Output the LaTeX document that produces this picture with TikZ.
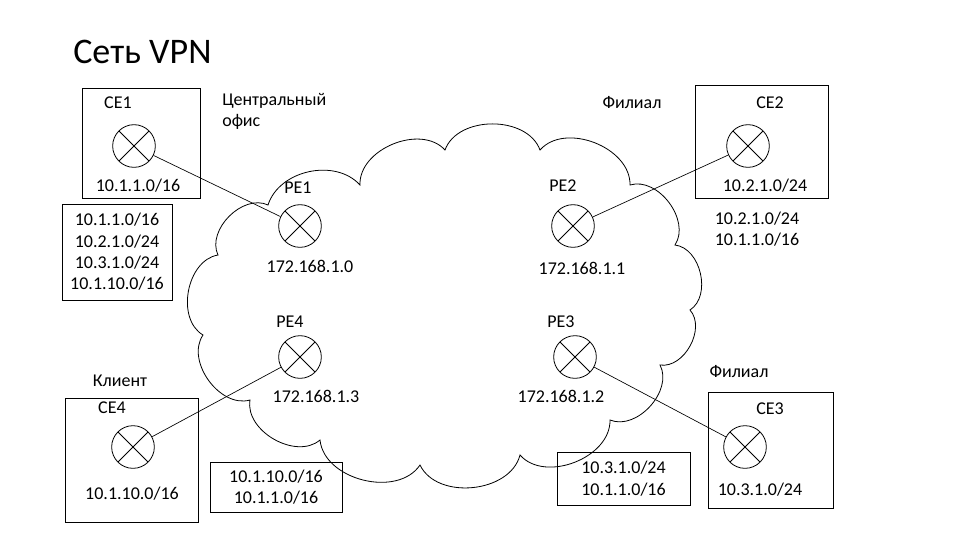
\documentclass[tikz,border=0pt]{standalone}
\usepackage{fontspec}
\setmainfont{Carlito}
\begin{document}
\begin{tikzpicture}[x=0.75pt,y=-0.75pt,
  lbl/.style={font=\fontsize{13.5}{16}\selectfont,inner sep=0},
  rt/.style={circle,draw,minimum size=32pt,inner sep=0,line width=0.6pt,path picture={\draw[line width=0.6pt] (path picture bounding box.north west)--(path picture bounding box.south east) (path picture bounding box.north east)--(path picture bounding box.south west);}},
  ln/.style={line width=0.5pt}]
\useasboundingbox (0,0) rectangle (960,540);
\node[anchor=west,font=\fontsize{27}{32}\selectfont,inner sep=0] (title) at (73,52) {Сеть VPN};
% cloud
\draw[line width=0.6pt] (203,335) to[bend left=70] (218,255) to[bend left=70] (268,205)
 to[bend left=60] (360,185) to[bend left=70] (445,150) to[bend left=70] (540,150)
 to[bend left=70] (630,185) to[bend left=70] (675,245) to[bend left=70] (690,310)
 to[bend left=70] (660,365) to[bend left=70] (610,420) to[bend left=70] (520,455)
 to[bend left=70] (420,465) to[bend left=70] (320,440) to[bend left=70] (250,400)
 to[bend left=70] cycle;
% CE1
\node[draw,minimum width=88.5pt,minimum height=82.5pt] (ce1box) at (141,143) {};
\node[lbl] (ce1l) at (118,103) {CE1};
\node[rt] (ce1) at (134,146) {};
\node[lbl] (ce1n) at (138,186) {10.1.1.0/16};
\node[draw,minimum width=82.5pt,minimum height=72pt,lbl,align=center] (t1) at (117,252) {10.1.1.0/16\\10.2.1.0/24\\10.3.1.0/24\\10.1.10.0/16};
\node[lbl,anchor=north west,align=left] (co) at (222,93) {Центральный\\офис};
\node[lbl] (f1) at (632,103) {Филиал};
% CE2
\node[draw,minimum width=99.75pt,minimum height=84.75pt] (ce2box) at (761.5,141.5) {};
\node[lbl] (ce2l) at (770,103) {CE2};
\node[rt] (ce2) at (748,146) {};
\node[lbl] (ce2n) at (765,186) {10.2.1.0/24};
\node[lbl,align=center] (t2) at (757,229) {10.2.1.0/24\\10.1.1.0/16};
% PEs
\node[lbl] (pe1l) at (298,188) {PE1};
\node[rt] (pe1) at (300,226) {};
\node[lbl] (pe1n) at (310,266) {172.168.1.0};
\node[lbl] (pe2l) at (563,186) {PE2};
\node[rt] (pe2) at (573,226) {};
\node[lbl] (pe2n) at (582,268) {172.168.1.1};
\node[lbl] (pe4l) at (290,322) {PE4};
\node[rt] (pe4) at (300,357) {};
\node[lbl] (pe4n) at (316,396) {172.168.1.3};
\node[lbl] (pe3l) at (561,322) {PE3};
\node[rt] (pe3) at (575,357) {};
\node[lbl] (pe3n) at (561,396) {172.168.1.2};
% CE4
\node[lbl] (kl) at (120,381) {Клиент};
\node[draw,minimum width=99.75pt,minimum height=93pt] (ce4box) at (131.5,460) {};
\node[lbl] (ce4l) at (112,408) {CE4};
\node[rt] (ce4) at (133,447) {};
\node[lbl] (ce4n) at (132,494) {10.1.10.0/16};
\node[draw,minimum width=99pt,minimum height=37.5pt,lbl,align=center] (t4) at (276,487) {10.1.10.0/16\\10.1.1.0/16};
\node[draw,minimum width=99.75pt,minimum height=39.75pt,lbl,align=center] (t3) at (623.5,478.5) {10.3.1.0/24\\10.1.1.0/16};
% CE3
\node[lbl] (f2) at (739,372) {Филиал};
\node[draw,minimum width=93.75pt,minimum height=87pt] (ce3box) at (770.5,450) {};
\node[lbl] (ce3l) at (770,409) {CE3};
\node[rt] (ce3) at (745,447) {};
\node[lbl] (ce3n) at (760,490) {10.3.1.0/24};
% links
\draw[ln] (ce1) -- (pe1);
\draw[ln] (ce2) -- (pe2);
\draw[ln] (ce4) -- (pe4);
\draw[ln] (ce3) -- (pe3);
\end{tikzpicture}
\end{document}
